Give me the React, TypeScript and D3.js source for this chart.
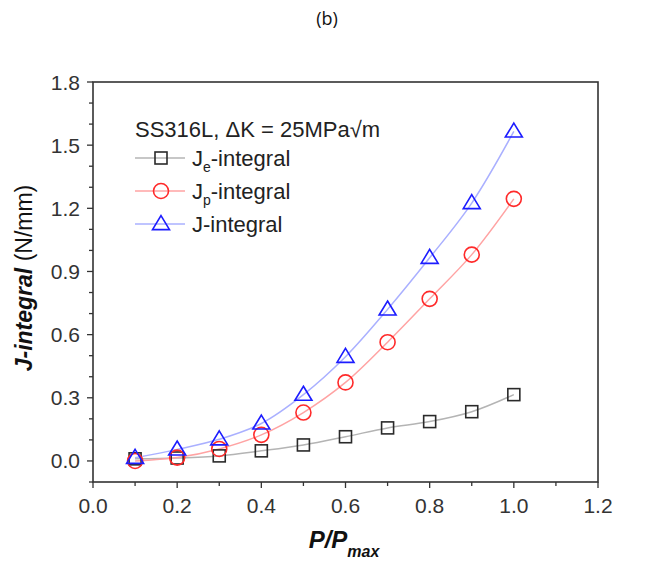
import React from "react";
import * as d3 from "d3";

const xValues = [0.1, 0.2, 0.3, 0.4, 0.5, 0.6, 0.7, 0.8, 0.9, 1.0];
const jeValues = [0.01, 0.014, 0.024, 0.048, 0.076, 0.115, 0.157, 0.187, 0.234, 0.315];
const jpValues = [0.0, 0.016, 0.057, 0.124, 0.23, 0.373, 0.564, 0.77, 0.98, 1.245];
const jValues = [0.015, 0.055, 0.103, 0.178, 0.315, 0.495, 0.72, 0.965, 1.225, 1.565];
const xTicks = [0.0, 0.2, 0.4, 0.6, 0.8, 1.0, 1.2];
const yTicks = [0.0, 0.3, 0.6, 0.9, 1.2, 1.5, 1.8];
const legendTitle = "SS316L, ΔK = 25MPa√m";

const W = 645, H = 562;
const L = 93, R = 598, T = 82, B = 482;
const FONT = "'Liberation Sans', Arial, sans-serif";

export default function App() {
  const x = d3.scaleLinear().domain([0, 1.2]).range([L, R]);
  const y = d3.scaleLinear().domain([-0.1, 1.8]).range([B, T]);
  const line = d3
    .line<[number, number]>()
    .x((d) => x(d[0]))
    .y((d) => y(d[1]))
    .curve(d3.curveCatmullRom.alpha(0.5));
  const series = [
    { vals: jeValues, line: "#b4b4b4", mark: "#2a2a2a", shape: "square" },
    { vals: jpValues, line: "#ffa3a3", mark: "#ff2a2a", shape: "circle" },
    { vals: jValues, line: "#aab0ff", mark: "#1c1cff", shape: "triangle" },
  ];
  const marker = (shape: string, cx: number, cy: number, color: string, key: any) => {
    if (shape === "square")
      return <rect key={key} x={cx - 6} y={cy - 6} width={12} height={12} fill="none" stroke={color} strokeWidth={1.6} />;
    if (shape === "circle")
      return <circle key={key} cx={cx} cy={cy} r={7.5} fill="none" stroke={color} strokeWidth={1.6} />;
    const h = 14, w = 17;
    const pts = `${cx},${cy - h * 0.6} ${cx + w / 2},${cy + h * 0.4} ${cx - w / 2},${cy + h * 0.4}`;
    return <polygon key={key} points={pts} fill="none" stroke={color} strokeWidth={1.6} strokeLinejoin="miter" />;
  };
  const minorX = d3.range(0, 1.2001, 0.1);
  const minorY = d3.range(-0.1, 1.8001, 0.1);
  const legendRows = [
    { label: "J", sub: "e", rest: "-integral", s: series[0] },
    { label: "J", sub: "p", rest: "-integral", s: series[1] },
    { label: "J-integral", sub: "", rest: "", s: series[2] },
  ];
  return (
    <svg width={W} height={H} style={{ position: "absolute", left: 0, top: 0, background: "#fff" }} fontFamily={FONT}>
      <rect x={0} y={0} width={W} height={H} fill="#fff" />
      <text x={327} y={25} textAnchor="middle" fontFamily="'Open Sans', sans-serif" fontSize={18} fill="#111">(b)</text>
      {/* frame */}
      <rect x={L} y={T} width={R - L} height={B - T} fill="none" stroke="#333" strokeWidth={1.6} />
      {/* x ticks */}
      {minorX.map((v, i) => (
        <line key={"mx" + i} x1={x(v)} x2={x(v)} y1={B} y2={B + (i % 2 === 0 ? 6 : 4)} stroke="#333" strokeWidth={1.3} />
      ))}
      {xTicks.map((v) => (
        <text key={"xt" + v} x={x(v)} y={513} textAnchor="middle" fontSize={21} fill="#333">{v.toFixed(1)}</text>
      ))}
      {/* y ticks */}
      {minorY.map((v, i) => {
        const major = Math.abs(Math.round(v * 10) % 3) === 0;
        return <line key={"my" + i} x1={L} x2={L - (major ? 6 : 4)} y1={y(v)} y2={y(v)} stroke="#333" strokeWidth={1.3} />;
      })}
      {yTicks.map((v) => (
        <text key={"yt" + v} x={80} y={y(v) + 7.5} textAnchor="end" fontSize={21} fill="#333">{v.toFixed(1)}</text>
      ))}
      {/* axis titles */}
      <text transform={`translate(32,278) rotate(-90)`} textAnchor="middle" fontSize={23} fill="#111">
        <tspan fontWeight="bold" fontStyle="italic">J-integral</tspan>
        <tspan> (N/mm)</tspan>
      </text>
      <text x={344} y={548} textAnchor="middle" fontSize={24} fill="#111" fontWeight="bold" fontStyle="italic">
        P/P<tspan fontSize={16} dy={9}>max</tspan>
      </text>
      {/* series */}
      {series.map((s, si) => (
        <g key={"s" + si}>
          <path d={line(xValues.map((xv, i) => [xv, s.vals[i]] as [number, number])) || ""} fill="none" stroke={s.line} strokeWidth={1.5} />
        </g>
      ))}
      {series.map((s, si) => (
        <g key={"m" + si}>{xValues.map((xv, i) => marker(s.shape, x(xv), y(s.vals[i]), s.mark, i))}</g>
      ))}
      {/* legend */}
      <text x={135} y={137} fontSize={22} fill="#222">{legendTitle}</text>
      {legendRows.map((r, i) => {
        const cy = 158 + i * 33;
        return (
          <g key={"lg" + i}>
            <line x1={135} x2={185} y1={cy} y2={cy} stroke={r.s.line} strokeWidth={1.5} />
            {marker(r.s.shape, 161, cy, r.s.mark, "m")}
            <text x={192} y={cy + 7.5} fontSize={22} fill="#222">
              {r.label}
              {r.sub ? <tspan fontSize={14} dy={6}>{r.sub}</tspan> : null}
              {r.rest ? <tspan dy={r.sub ? -6 : 0}>{r.rest}</tspan> : null}
            </text>
          </g>
        );
      })}
    </svg>
  );
}
